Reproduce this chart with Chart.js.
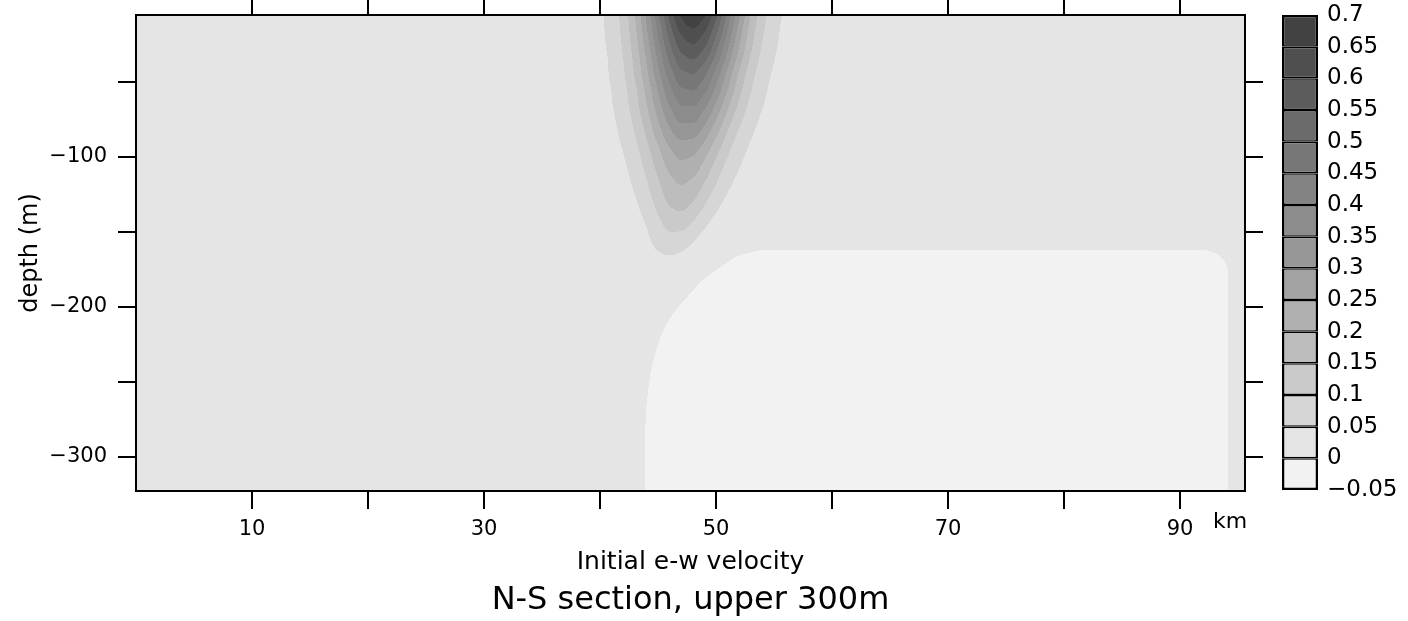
<!DOCTYPE html>
<html>
<head>
<meta charset="utf-8">
<title>N-S section, upper 300m</title>
<script src="https://cdn.jsdelivr.net/npm/chart.js@4/dist/chart.umd.min.js"></script>
<style>
  html, body { margin: 0; padding: 0; background: #fff; }
  #wrap { position: relative; width: 1408px; height: 621px; }
  #section { position: absolute; left: 0; top: 0; }
  #colorbar { position: absolute; left: 1280px; top: 0; }
</style>
</head>
<body>
<div id="wrap">
  <canvas id="section" width="1408" height="621"></canvas>
  <canvas id="colorbar" width="128" height="621"></canvas>
</div>
<script>
// contour levels (m/s) and the grey of each band, lowest band first
const levels = [-0.05, 0, 0.05, 0.1, 0.15, 0.2, 0.25, 0.3, 0.35, 0.4, 0.45, 0.5, 0.55, 0.6, 0.65, 0.7];
const levelLabels = ['\u22120.05', '0', '0.05', '0.1', '0.15', '0.2', '0.25', '0.3', '0.35', '0.4', '0.45', '0.5', '0.55', '0.6', '0.65', '0.7'];
const bandColors = ['#f2f2f2', '#e5e5e5', '#d6d6d6', '#cacaca', '#bdbdbd', '#b0b0b0', '#a3a3a3', '#979797',
                    '#8c8c8c', '#838383', '#777777', '#6b6b6b', '#5c5c5c', '#4f4f4f', '#424242'];

// section grid: distance across (km) and depth (m)
const kmNodes = [0, 38, 39, 40, 41, 42, 43, 44, 45, 46, 47, 48, 49, 50, 51, 52, 53, 54, 55, 56, 57, 58, 60, 92, 93, 94, 95, 96];
const depthNodes = [-5, -15, -25, -35, -45, -55, -65, -75, -85, -95, -105, -115, -125, -135, -145, -155,
                    -165, -175, -185, -195, -210, -230, -250, -270, -290, -325];

const velocity = [
  [0.02, 0.023, 0.029, 0.043, 0.071, 0.121, 0.200, 0.310, 0.439, 0.566, 0.660, 0.695, 0.660, 0.566, 0.439, 0.310, 0.200, 0.121, 0.071, 0.043, 0.029, 0.023, 0.02, 0.02, 0.02, 0.02, 0.02, 0.02],
  [0.02, 0.023, 0.029, 0.042, 0.068, 0.115, 0.189, 0.292, 0.413, 0.530, 0.616, 0.645, 0.609, 0.520, 0.401, 0.281, 0.180, 0.109, 0.064, 0.040, 0.028, 0.023, 0.02, 0.02, 0.02, 0.02, 0.02, 0.02],
  [0.02, 0.023, 0.028, 0.040, 0.064, 0.108, 0.178, 0.274, 0.387, 0.495, 0.573, 0.598, 0.561, 0.475, 0.364, 0.253, 0.162, 0.097, 0.058, 0.037, 0.027, 0.022, 0.02, 0.02, 0.02, 0.02, 0.02, 0.02],
  [0.02, 0.022, 0.027, 0.037, 0.059, 0.100, 0.164, 0.253, 0.358, 0.459, 0.529, 0.549, 0.513, 0.430, 0.326, 0.224, 0.142, 0.085, 0.051, 0.033, 0.025, 0.022, 0.02, 0.02, 0.02, 0.02, 0.02, 0.02],
  [0.02, 0.022, 0.026, 0.036, 0.056, 0.094, 0.154, 0.236, 0.333, 0.423, 0.485, 0.498, 0.459, 0.380, 0.284, 0.192, 0.121, 0.072, 0.044, 0.030, 0.024, 0.021, 0.02, 0.02, 0.02, 0.02, 0.02, 0.02],
  [0.02, 0.022, 0.025, 0.033, 0.051, 0.085, 0.139, 0.215, 0.304, 0.387, 0.443, 0.453, 0.414, 0.339, 0.250, 0.167, 0.104, 0.062, 0.039, 0.028, 0.023, 0.021, 0.02, 0.02, 0.02, 0.02, 0.02, 0.02],
  [0.02, 0.021, 0.024, 0.032, 0.048, 0.079, 0.129, 0.198, 0.279, 0.354, 0.402, 0.406, 0.366, 0.295, 0.214, 0.141, 0.087, 0.053, 0.034, 0.026, 0.022, 0.020, 0.02, 0.02, 0.02, 0.02, 0.02, 0.02],
  [0.02, 0.021, 0.023, 0.029, 0.043, 0.070, 0.114, 0.177, 0.251, 0.319, 0.360, 0.360, 0.319, 0.251, 0.177, 0.114, 0.070, 0.043, 0.029, 0.023, 0.021, 0.020, 0.02, 0.02, 0.02, 0.02, 0.02, 0.02],
  [0.02, 0.021, 0.022, 0.027, 0.038, 0.061, 0.100, 0.156, 0.222, 0.282, 0.317, 0.313, 0.272, 0.209, 0.143, 0.090, 0.055, 0.035, 0.026, 0.022, 0.020, 0.020, 0.02, 0.02, 0.02, 0.02, 0.02, 0.02],
  [0.02, 0.020, 0.022, 0.025, 0.033, 0.052, 0.085, 0.134, 0.192, 0.245, 0.273, 0.266, 0.226, 0.168, 0.112, 0.069, 0.043, 0.029, 0.023, 0.021, 0.020, 0.020, 0.02, 0.02, 0.02, 0.02, 0.02, 0.02],
  [0.02, 0.020, 0.021, 0.023, 0.030, 0.044, 0.073, 0.116, 0.170, 0.217, 0.241, 0.231, 0.190, 0.137, 0.088, 0.054, 0.034, 0.025, 0.022, 0.020, 0.020, 0.020, 0.02, 0.02, 0.02, 0.02, 0.02, 0.02],
  [0.02, 0.020, 0.021, 0.022, 0.026, 0.037, 0.061, 0.099, 0.147, 0.190, 0.210, 0.196, 0.156, 0.108, 0.067, 0.041, 0.028, 0.022, 0.020, 0.020, 0.020, 0.020, 0.02, 0.02, 0.02, 0.02, 0.02, 0.02],
  [0.02, 0.020, 0.020, 0.021, 0.024, 0.032, 0.050, 0.084, 0.128, 0.168, 0.183, 0.165, 0.124, 0.080, 0.048, 0.031, 0.023, 0.021, 0.020, 0.020, 0.020, 0.020, 0.02, 0.02, 0.02, 0.02, 0.02, 0.02],
  [0.02, 0.020, 0.020, 0.020, 0.022, 0.026, 0.040, 0.068, 0.108, 0.144, 0.154, 0.132, 0.091, 0.055, 0.033, 0.024, 0.021, 0.020, 0.020, 0.020, 0.020, 0.020, 0.02, 0.02, 0.02, 0.02, 0.02, 0.02],
  [0.02, 0.020, 0.020, 0.020, 0.021, 0.023, 0.032, 0.052, 0.085, 0.114, 0.117, 0.092, 0.058, 0.035, 0.024, 0.021, 0.020, 0.020, 0.020, 0.020, 0.020, 0.020, 0.02, 0.02, 0.02, 0.02, 0.02, 0.02],
  [0.02, 0.020, 0.020, 0.020, 0.020, 0.021, 0.027, 0.042, 0.066, 0.084, 0.079, 0.056, 0.034, 0.024, 0.021, 0.0165, 0.0124, 0.0105, 0.0105, 0.0105, 0.0105, 0.0105, 0.0105, 0.0105, 0.012, 0.016, 0.02, 0.02],
  [0.02, 0.020, 0.020, 0.020, 0.020, 0.021, 0.023, 0.032, 0.045, 0.052, 0.045, 0.032, 0.023, 0.013, 0.0068, 0.0009, -0.0021, -0.0045, -0.0045, -0.0045, -0.0045, -0.0045, -0.0045, -0.0045, -0.0014, 0.0052, 0.01, 0.02],
  [0.02, 0.020, 0.020, 0.020, 0.020, 0.020, 0.020, 0.022, 0.024, 0.025, 0.024, 0.0166, 0.0075, 0.0005, -0.0061, -0.012, -0.0167, -0.0195, -0.0195, -0.0195, -0.0195, -0.0195, -0.0195, -0.0195, -0.0132, -0.0011, 0.0105, 0.02],
  [0.02, 0.020, 0.020, 0.020, 0.020, 0.020, 0.020, 0.020, 0.020, 0.020, 0.0128, 0.0043, -0.0044, -0.0115, -0.019, -0.02, -0.02, -0.02, -0.02, -0.02, -0.02, -0.02, -0.02, -0.02, -0.0132, -0.0016, 0.01, 0.02],
  [0.02, 0.020, 0.020, 0.020, 0.020, 0.020, 0.020, 0.020, 0.020, 0.0115, 0.0027, -0.0059, -0.0144, -0.02, -0.02, -0.02, -0.02, -0.02, -0.02, -0.02, -0.02, -0.02, -0.02, -0.02, -0.0132, -0.0016, 0.01, 0.02],
  [0.02, 0.020, 0.020, 0.020, 0.020, 0.020, 0.020, 0.0183, 0.0084, -0.0015, -0.0113, -0.02, -0.02, -0.02, -0.02, -0.02, -0.02, -0.02, -0.02, -0.02, -0.02, -0.02, -0.02, -0.02, -0.0132, -0.0016, 0.01, 0.02],
  [0.02, 0.020, 0.020, 0.020, 0.020, 0.020, 0.020, 0.0088, -0.0022, -0.0132, -0.02, -0.02, -0.02, -0.02, -0.02, -0.02, -0.02, -0.02, -0.02, -0.02, -0.02, -0.02, -0.02, -0.02, -0.0132, -0.0016, 0.01, 0.02],
  [0.02, 0.020, 0.020, 0.020, 0.020, 0.020, 0.0142, 0.0028, -0.0087, -0.02, -0.02, -0.02, -0.02, -0.02, -0.02, -0.02, -0.02, -0.02, -0.02, -0.02, -0.02, -0.02, -0.02, -0.02, -0.0132, -0.0016, 0.01, 0.02],
  [0.02, 0.020, 0.020, 0.020, 0.020, 0.020, 0.0113, -0.0003, -0.0119, -0.02, -0.02, -0.02, -0.02, -0.02, -0.02, -0.02, -0.02, -0.02, -0.02, -0.02, -0.02, -0.02, -0.02, -0.02, -0.0132, -0.0016, 0.01, 0.02],
  [0.02, 0.020, 0.020, 0.020, 0.020, 0.020, 0.0102, -0.0014, -0.013, -0.02, -0.02, -0.02, -0.02, -0.02, -0.02, -0.02, -0.02, -0.02, -0.02, -0.02, -0.02, -0.02, -0.02, -0.02, -0.0132, -0.0016, 0.01, 0.02],
  [0.02, 0.020, 0.020, 0.020, 0.020, 0.020, 0.0102, -0.0014, -0.013, -0.02, -0.02, -0.02, -0.02, -0.02, -0.02, -0.02, -0.02, -0.02, -0.02, -0.02, -0.02, -0.02, -0.02, -0.02, -0.0132, -0.0016, 0.01, 0.02]
];

// axis ticks
const kmTicks = [10, 20, 30, 40, 50, 60, 70, 80, 90];
const kmTickLabels = ['10', '', '30', '', '50', '', '70', '', '90'];
const depthTicks = [-300, -250, -200, -150, -100, -50];
const depthTickLabels = ['\u2212300', '', '\u2212200', '', '\u2212100', ''];

Chart.defaults.font.family = '"DejaVu Sans", sans-serif';
Chart.defaults.color = '#000';

function hexToRgb(hex) {
  const n = parseInt(hex.slice(1), 16);
  return [n >> 16, (n >> 8) & 255, n & 255];
}

function bandOf(v) {
  let k = 0;
  while (k < levels.length - 2 && v >= levels[k + 1]) k++;
  return k;
}

// slopes for a monotone cubic through the nodes (no overshoot between them)
function monotoneSlopes(pos, vals) {
  const n = vals.length;
  const m = new Array(n).fill(0);
  const h = [], d = [];
  for (let k = 0; k < n - 1; k++) {
    h[k] = pos[k + 1] - pos[k];
    d[k] = (vals[k + 1] - vals[k]) / h[k];
  }
  m[0] = d[0];
  m[n - 1] = d[n - 2];
  for (let k = 1; k < n - 1; k++) {
    if (d[k - 1] * d[k] <= 0) continue;
    const w1 = 2 * h[k] + h[k - 1], w2 = h[k] + 2 * h[k - 1];
    m[k] = (w1 + w2) / (w1 / d[k - 1] + w2 / d[k]);
  }
  return m;
}

function hermite(v0, v1, m0, m1, h, t) {
  const t2 = t * t, t3 = t2 * t;
  return (2 * t3 - 3 * t2 + 1) * v0 + (t3 - 2 * t2 + t) * h * m0 + (3 * t2 - 2 * t3) * v1 + (t3 - t2) * h * m1;
}

// where each pixel centre falls between two node positions
function locate(nodePx, count) {
  const idx = new Int32Array(count), frac = new Float64Array(count);
  let i = 0;
  for (let p = 0; p < count; p++) {
    const c = p + 0.5;
    while (i < nodePx.length - 2 && c >= nodePx[i + 1]) i++;
    idx[p] = i;
    frac[p] = Math.min(1, Math.max(0, (c - nodePx[i]) / (nodePx[i + 1] - nodePx[i])));
  }
  return { idx, frac };
}

// filled contours: the grid nodes are placed with the chart scales, shaded by band
const fieldPlugin = {
  id: 'field',
  beforeDraw(chart) {
    const { ctx, chartArea: area, scales } = chart;
    const w = Math.ceil(area.right - area.left);
    const h = Math.ceil(area.bottom - area.top);
    const colPx = kmNodes.map(v => scales.x.getPixelForValue(v) - area.left);
    const rowPx = depthNodes.map(v => scales.y.getPixelForValue(v) - area.top);
    const cols = locate(colPx, w), rows = locate(rowPx, h);
    const rgb = bandColors.map(hexToRgb);

    // smooth each depth row across the section
    const across = velocity.map(row => {
      const m = monotoneSlopes(colPx, row);
      const out = new Float64Array(w);
      for (let p = 0; p < w; p++) {
        const i = cols.idx[p];
        out[p] = hermite(row[i], row[i + 1], m[i], m[i + 1], colPx[i + 1] - colPx[i], cols.frac[p]);
      }
      return out;
    });

    const off = document.createElement('canvas');
    off.width = w;
    off.height = h;
    const octx = off.getContext('2d');
    const img = octx.createImageData(w, h);
    for (let p = 0; p < w; p++) {
      const column = across.map(r => r[p]);
      const m = monotoneSlopes(rowPx, column);
      for (let q = 0; q < h; q++) {
        const j = rows.idx[q];
        const v = hermite(column[j], column[j + 1], m[j], m[j + 1], rowPx[j + 1] - rowPx[j], rows.frac[q]);
        const col = rgb[bandOf(v)];
        const o = (q * w + p) * 4;
        img.data[o] = col[0];
        img.data[o + 1] = col[1];
        img.data[o + 2] = col[2];
        img.data[o + 3] = 255;
      }
    }
    octx.putImageData(img, 0, 0);
    ctx.drawImage(off, area.left, area.top);
  }
};

// unit label at the end of the km axis
const unitPlugin = {
  id: 'unit',
  afterDraw(chart) {
    const { ctx, scales: { x } } = chart;
    ctx.save();
    ctx.font = '22px "DejaVu Sans", sans-serif';
    ctx.fillStyle = '#000';
    ctx.textAlign = 'center';
    ctx.textBaseline = 'middle';
    ctx.fillText('km', x.right - 15, x.top + 31);
    ctx.restore();
  }
};

const tickGrid = { drawOnChartArea: false, drawTicks: true, tickLength: 18, color: '#000', lineWidth: 2 };
const boxBorder = { display: true, color: '#000', width: 2 };
const tickFont = { size: 21 };

// fixed axis sizes so the plot box sits where the original one does
function fixHeight(h) {
  return axis => { axis.height = h; axis.paddingLeft = 0; axis.paddingRight = 0; };
}
function fixWidth(w) {
  return axis => { axis.width = w; axis.paddingTop = 0; axis.paddingBottom = 0; };
}

new Chart(document.getElementById('section'), {
  type: 'scatter',
  data: { datasets: [] },
  options: {
    responsive: false,
    animation: false,
    layout: { padding: 0 },
    plugins: {
      legend: { display: false },
      tooltip: { enabled: false },
      title: {
        display: true,
        text: 'N-S section, upper 300m',
        position: 'bottom',
        fullSize: false,
        color: '#000',
        font: { size: 32, weight: 'normal' },
        padding: { top: 0, bottom: 1 }
      }
    },
    scales: {
      x: {
        type: 'linear', position: 'bottom', min: 0, max: 95.6,
        afterBuildTicks: axis => { axis.ticks = kmTicks.map(v => ({ value: v })); },
        afterFit: fixHeight(90.6),
        grid: tickGrid,
        border: boxBorder,
        ticks: { autoSkip: false, maxRotation: 0, padding: 8, color: '#000', font: tickFont,
                 callback: (v, i) => kmTickLabels[i] },
        title: { display: true, text: 'Initial e-w velocity', color: '#000',
                 font: { size: 25 }, padding: { top: 0, bottom: 4 } }
      },
      x2: {
        type: 'linear', position: 'top', min: 0, max: 95.6,
        afterBuildTicks: axis => { axis.ticks = kmTicks.map(v => ({ value: v })); },
        afterFit: fixHeight(15),
        grid: tickGrid,
        border: boxBorder,
        ticks: { display: false }
      },
      y: {
        type: 'linear', position: 'left', min: -322.7, max: -5.3,
        afterBuildTicks: axis => { axis.ticks = depthTicks.map(v => ({ value: v })); },
        afterFit: fixWidth(136),
        grid: tickGrid,
        border: boxBorder,
        ticks: { autoSkip: false, padding: 11, color: '#000', font: tickFont,
                 callback: (v, i) => depthTickLabels[i] },
        title: { display: true, text: 'depth (m)', color: '#000',
                 font: { size: 24 }, padding: { top: 16, bottom: 0 } }
      },
      y2: {
        type: 'linear', position: 'right', min: -322.7, max: -5.3,
        afterBuildTicks: axis => { axis.ticks = depthTicks.map(v => ({ value: v })); },
        afterFit: fixWidth(163),
        grid: tickGrid,
        border: boxBorder,
        ticks: { display: false }
      }
    }
  },
  plugins: [fieldPlugin, unitPlugin]
});

// colour key: one floating bar per band
new Chart(document.getElementById('colorbar'), {
  type: 'bar',
  data: {
    labels: ['velocity'],
    datasets: bandColors.map((color, k) => ({
      data: [[levels[k], levels[k + 1]]],
      backgroundColor: color,
      borderColor: '#000',
      borderWidth: { left: 2.5, right: 2.5, top: k === bandColors.length - 1 ? 2.5 : 1.5, bottom: k === 0 ? 2.5 : 1.5 },
      borderSkipped: false,
      inflateAmount: 0,
      grouped: false,
      barPercentage: 1,
      categoryPercentage: 1
    }))
  },
  options: {
    responsive: false,
    animation: false,
    layout: { padding: { left: 2, right: 0, top: 15, bottom: 131 } },
    plugins: { legend: { display: false }, tooltip: { enabled: false } },
    scales: {
      x: { display: false },
      y: {
        position: 'right', min: -0.05, max: 0.7,
        afterBuildTicks: axis => { axis.ticks = levels.map(v => ({ value: v })); },
        afterFit: fixWidth(90),
        grid: { display: false, drawTicks: false },
        border: { display: false },
        ticks: { autoSkip: false, padding: 9, color: '#000', font: { size: 23 },
                 callback: (v, i) => levelLabels[i] }
      }
    }
  }
});
</script>
</body>
</html>
